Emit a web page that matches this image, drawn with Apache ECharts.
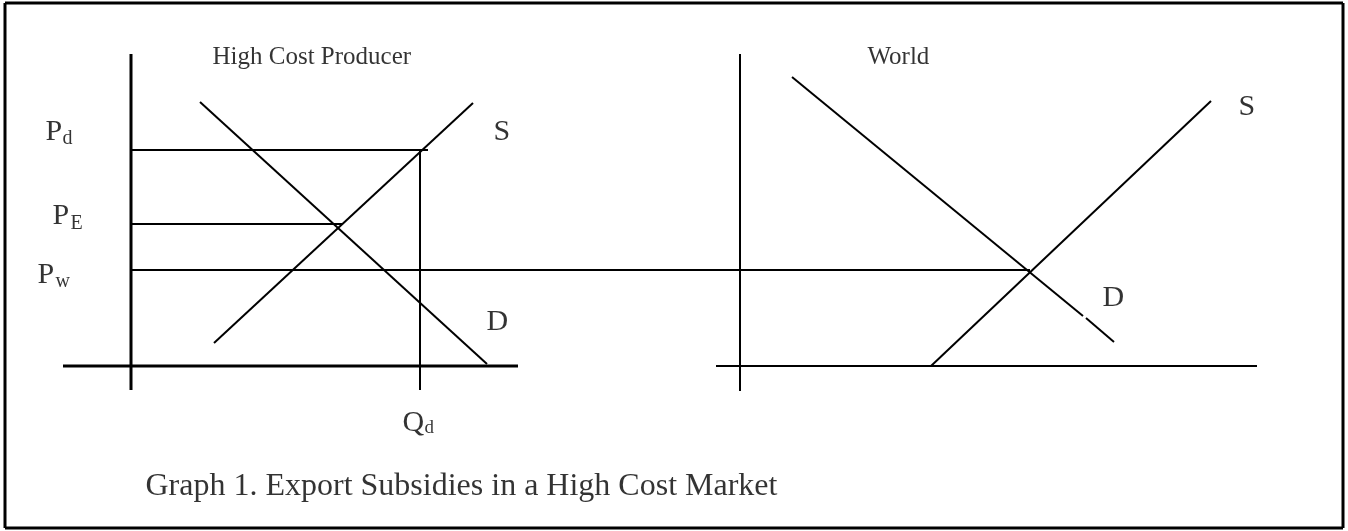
<!DOCTYPE html>
<html>
<head>
<meta charset="utf-8">
<script src="https://cdn.jsdelivr.net/npm/echarts@6/dist/echarts.min.js"></script>
<style>
  html, body { margin: 0; padding: 0; background: #fff; }
  #chart { width: 1348px; height: 531px; }
</style>
</head>
<body>
<div id="chart"></div>
<script>
// plot space runs 0..1348 across and 0..531 down, same as the picture
// each segment: [x1, y1, x2, y2, width]
const frame = [[5, 3, 1343, 3, 3], [1343, 3, 1343, 528, 3], [1343, 528, 5, 528, 3], [5, 528, 5, 3, 3]];
const leftAxes = [[131, 54, 131, 390, 3], [63, 366, 518, 366, 3]];
const leftCurves = [
  [214, 343, 473, 103, 2], // S
  [200, 102, 487, 364, 2]  // D
];
const priceLines = [
  [131, 150, 428, 150, 2], // Pd
  [131, 224, 343, 224, 2], // PE
  [131, 270, 1030, 270, 2] // Pw
];
const qdLine = [[420, 150, 420, 390, 2]];
const worldAxes = [[740, 54, 740, 391, 2], [716, 366, 1257, 366, 2]];
const worldCurves = [
  [792, 77, 1083, 316, 2],  // D
  [1086, 318, 1114, 342, 2],
  [931, 366, 1211, 101, 2]  // S
];

// labels: [text, x (left edge), y (middle), size]
const labels = [
  ["High Cost Producer", 212, 57, 25],
  ["World", 867, 57, 25],
  ["P", 45, 132, 30], ["d", 62, 139, 20],
  ["P", 52, 216, 30], ["E", 70, 224, 20],
  ["P", 37, 275, 30], ["w", 55, 282, 20],
  ["S", 493, 132, 30],
  ["D", 486, 322, 30],
  ["Q", 402, 423, 30], ["d", 424, 428, 19],
  ["S", 1238, 107, 30],
  ["D", 1102, 298, 30],
  ["Graph 1. Export Subsidies in a High Cost Market", 145, 487, 32]
];

const segments = [].concat(frame, leftAxes, leftCurves, priceLines, qdLine, worldAxes, worldCurves);

const series = segments.map((s) => ({
  type: "line",
  data: [[s[0], s[1]], [s[2], s[3]]],
  showSymbol: false,
  symbol: "none",
  silent: true,
  animation: false,
  lineStyle: { color: "#000", width: s[4] },
}));

series.push({
  type: "scatter",
  symbolSize: 1,
  itemStyle: { color: "rgba(0,0,0,0)" },
  animation: false,
  silent: true,
  data: labels.map((l) => ({
    value: [l[1], l[2]],
    label: {
      show: true,
      position: "right",
      distance: 0,
      formatter: l[0],
      fontFamily: "Liberation Serif",
      fontSize: l[3],
      color: "#000",
    },
  })),
});

const chart = echarts.init(document.getElementById("chart"));
chart.setOption({
  backgroundColor: "#fff",
  animation: false,
  grid: { left: 0, right: 0, top: 0, bottom: 0 },
  xAxis: { type: "value", min: 0, max: 1348, show: false },
  yAxis: { type: "value", min: 0, max: 531, inverse: true, show: false },
  series: series,
});
</script>
</body>
</html>
